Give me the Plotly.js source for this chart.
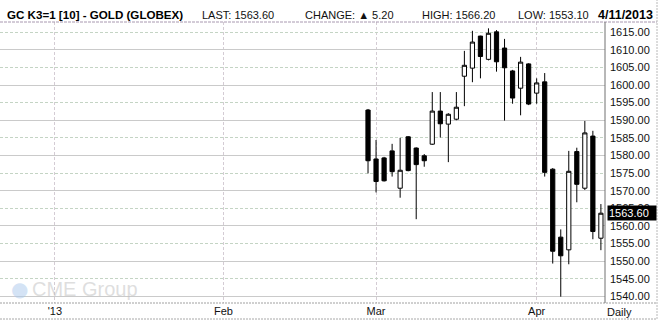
<!DOCTYPE html>
<html><head><meta charset="utf-8">
<script src="https://cdn.plot.ly/plotly-3.0.1.min.js"></script>
<style>html,body{margin:0;padding:0;background:#fff;}#chart{width:665px;height:323px;}</style>
</head><body><div id="chart"></div>
<script>
// Daily GC K3 (Gold, Globex) trading days
var dates = ["2013-02-28","2013-03-01","2013-03-04","2013-03-05","2013-03-06","2013-03-07","2013-03-08",
  "2013-03-11","2013-03-12","2013-03-13","2013-03-14","2013-03-15","2013-03-18","2013-03-19","2013-03-20",
  "2013-03-21","2013-03-22","2013-03-25","2013-03-26","2013-03-27","2013-03-28","2013-04-01","2013-04-02",
  "2013-04-03","2013-04-04","2013-04-05","2013-04-08","2013-04-09","2013-04-10","2013-04-11"];
var openP  = [1592.9,1579.0,1579.3,1581.3,1570.7,1585.3,1582.1,1579.9,1583.2,1592.6,1588.9,1590.3,1602.5,1604.8,1613.9,
  1607.3,1615.1,1610.5,1604.0,1599.1,1606.0,1597.7,1600.9,1576.1,1556.8,1553.2,1581.1,1570.7,1585.5,1556.5];
var highP  = [1593.2,1584.4,1579.6,1583.3,1585.0,1585.5,1582.3,1580.4,1598.0,1598.0,1592.0,1598.0,1609.7,1615.4,1614.0,
  1616.1,1615.6,1613.1,1604.3,1608.0,1606.2,1601.9,1603.4,1576.4,1559.0,1581.3,1582.2,1589.8,1587.0,1566.2];
var lowP   = [1574.9,1569.5,1572.6,1574.0,1568.0,1575.5,1561.9,1576.8,1583.0,1585.1,1578.1,1590.0,1594.0,1600.8,1601.9,
  1607.0,1603.8,1589.9,1594.7,1591.4,1594.3,1594.7,1574.0,1549.3,1539.9,1549.1,1566.7,1570.2,1556.2,1553.1];
var closeP = [1578.5,1572.6,1572.8,1575.4,1575.8,1575.7,1577.4,1578.5,1592.6,1589.0,1591.7,1593.7,1605.6,1612.2,1608.1,
  1614.7,1606.6,1604.9,1596.3,1606.5,1594.6,1600.6,1575.2,1552.8,1551.5,1575.5,1571.8,1586.4,1558.4,1563.6];
var monthLabels = ["'13","Feb","Mar","Apr"];
var headerTitle = "GC K3=1 [10] - GOLD (GLOBEX)";
var lastPrice = 1563.60, changeVal = 5.20, dayHigh = 1566.20, dayLow = 1553.10, dateLabel = "4/11/2013";

// x axis = trading-day index (Feb 28 = 0)
var xIdx = dates.map(function(d,i){return i;});
var iMar = dates.indexOf("2013-03-01"), iApr = dates.indexOf("2013-04-01");
var tickIdx = [iMar - 19 - 21, iMar - 19, iMar, iApr];

var W = 605, H = 281, TOP = 22; // plot area in px
function px(x){return x / W;}
function py(y){return 1 + (TOP - y) / H;}

var trace = {
  type: 'candlestick', x: xIdx, open: openP, high: highP, low: lowP, close: closeP,
  increasing: {line: {color: '#000', width: 1}, fillcolor: '#ffffff'},
  decreasing: {line: {color: '#000', width: 1}, fillcolor: '#000000'},
  whiskerwidth: 0, hoverinfo: 'none', showlegend: false
};
// empty helper trace so the second (dashed-grid) price axis is drawn
var gridHelper = {type:'scatter', mode:'lines', x:[], y:[], xaxis:'x', yaxis:'y2', hoverinfo:'none', showlegend:false};

var f11 = {family: 'Liberation Sans, Arial, sans-serif', size: 11, color: '#111'};
var hdrY = py(15);
var annotations = [
  {xref:'paper', yref:'paper', x:px(5), y:hdrY, xanchor:'left', yanchor:'middle', showarrow:false,
   text:'<b>'+headerTitle+'</b>', font:{family:'Liberation Sans, Arial, sans-serif', size:11.6, color:'#000'}},
  {xref:'paper', yref:'paper', x:px(200), y:hdrY, xanchor:'left', yanchor:'middle', showarrow:false,
   text:'LAST: '+lastPrice.toFixed(2), font:f11},
  {xref:'paper', yref:'paper', x:px(303), y:hdrY, xanchor:'left', yanchor:'middle', showarrow:false,
   text:'CHANGE: \u25B2 '+changeVal.toFixed(2), font:f11},
  {xref:'paper', yref:'paper', x:px(420), y:hdrY, xanchor:'left', yanchor:'middle', showarrow:false,
   text:'HIGH: '+dayHigh.toFixed(2), font:f11},
  {xref:'paper', yref:'paper', x:px(516), y:hdrY, xanchor:'left', yanchor:'middle', showarrow:false,
   text:'LOW: '+dayLow.toFixed(2), font:f11},
  {xref:'paper', yref:'paper', x:px(655), y:hdrY, xanchor:'right', yanchor:'middle', showarrow:false,
   text:'<b>'+dateLabel+'</b>', font:{family:'Liberation Sans, Arial, sans-serif', size:12.5, color:'#000'}},
  {xref:'paper', yref:'paper', x:px(634), y:py(312), xanchor:'right', yanchor:'middle', showarrow:false,
   text:'Daily', font:f11},
  {xref:'paper', yref:'y', x:px(607), y:lastPrice, xanchor:'left', yanchor:'middle', showarrow:false,
   text:lastPrice.toFixed(2), bgcolor:'#000', borderpad:1, width:46, align:'left',
   font:{family:'Liberation Sans, Arial, sans-serif', size:11, color:'#fff'}},
  {xref:'paper', yref:'paper', x:px(9), y:py(289), xanchor:'left', yanchor:'middle', showarrow:false,
   text:'\u25CF', font:{family:'DejaVu Sans, sans-serif', size:20, color:'rgba(170,200,235,0.5)'}},
  {xref:'paper', yref:'paper', x:px(30), y:py(289), xanchor:'left', yanchor:'middle', showarrow:false,
   text:'CME Group', font:{family:'Liberation Sans, Arial, sans-serif', size:20, color:'rgba(190,190,190,0.5)'}}
];

var shapes = [
  {type:'line', xref:'paper', yref:'paper', x0:px(0), x1:px(657), y0:1, y1:1, line:{color:'#a898b0', width:1, dash:'3px,1px'}},
  {type:'line', xref:'paper', yref:'paper', x0:px(0), x1:px(657), y0:0, y1:0, line:{color:'#a0a0a0', width:1, dash:'2px,1px'}},
  {type:'line', xref:'paper', yref:'paper', x0:px(0), x1:px(657), y0:py(319), y1:py(319), line:{color:'#a8a8a8', width:1, dash:'2px,1px'}},
  {type:'line', xref:'paper', yref:'paper', x0:1, x1:1, y0:0, y1:1, line:{color:'#707070', width:1}},
  {type:'line', xref:'paper', yref:'paper', x0:px(657), x1:px(657), y0:py(319), y1:py(0), line:{color:'#b8b8b8', width:1, dash:'2px,1px'}}
];

var yRange = [1538.1, 1617.9];
var layout = {
  width: 665, height: 323,
  margin: {l: 0, r: 60, t: TOP, b: 20, pad: 0},
  paper_bgcolor: '#fff', plot_bgcolor: '#fff',
  showlegend: false, boxgap: 0.25, dragmode: false,
  xaxis: {type:'linear', range:[-45.83, 29.51], rangeslider:{visible:false},
    tickmode:'array', tickvals: tickIdx, ticktext: monthLabels, ticks:'',
    showgrid:true, gridcolor:'#d4ccd4', griddash:'3px,2px', gridwidth:1,
    zeroline:false, showline:false, tickfont: f11, fixedrange:true},
  yaxis: {side:'right', range:yRange, tick0:1540, dtick:10, tickformat:'.2f', ticks:'',
    ticklabelstandoff: 4, showgrid:true, gridcolor:'#cacaca', gridwidth:1, zeroline:false, showline:false,
    tickfont: f11, fixedrange:true},
  yaxis2: {side:'right', overlaying:'y', anchor:'x', range:yRange, autorange:false, tick0:1545, dtick:10, tickformat:'.2f', ticks:'',
    ticklabelstandoff: 4, showgrid:true, gridcolor:'#c4d4c4', griddash:'3px,2px', gridwidth:1, zeroline:false, showline:false,
    tickfont: f11, fixedrange:true},
  annotations: annotations,
  shapes: shapes
};

Plotly.newPlot('chart', [trace, gridHelper], layout, {staticPlot:true, displayModeBar:false});
</script>
</body></html>
